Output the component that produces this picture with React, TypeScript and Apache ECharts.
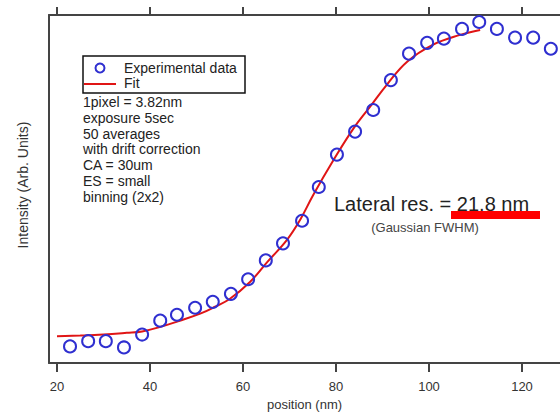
import React, { useEffect, useRef } from "react";
import * as echarts from "echarts";

// Experimental data (position in nm, intensity in arbitrary units 0-100)
const positions = [22.8, 26.7, 30.5, 34.4, 38.3, 42.2, 45.8, 49.7, 53.5, 57.4, 61.1, 64.9, 68.6, 72.7, 76.3, 80.2, 84.1, 88.0, 91.8, 95.7, 99.6, 103.2, 107.1, 110.8, 114.6, 118.5, 122.4, 126.2];
const intensities = [4.8, 6.3, 6.3, 4.5, 8.2, 12.2, 13.9, 15.9, 17.6, 19.9, 24.1, 29.5, 34.4, 40.9, 50.6, 59.9, 66.5, 72.7, 81.3, 88.9, 92.0, 93.2, 96.0, 98.0, 96.0, 93.5, 93.5, 90.3];

// Fit curve
const fitX = [20, 25, 30, 35, 38.3, 42.2, 46, 50.8, 54, 57.2, 61.5, 65.2, 69.5, 72.3, 75.1, 79.4, 83.7, 87.3, 91.0, 95.3, 100.9, 106.7, 111.0];
const fitY = [7.7, 7.9, 8.2, 8.7, 9.1, 10.4, 12.0, 14.2, 16.2, 18.5, 23.3, 29.0, 35.5, 41.2, 48.3, 58.2, 67.3, 73.6, 80.1, 86.6, 91.5, 94.3, 95.7];

const xTicks = [20, 40, 60, 80, 100, 120];

const notes = [
  "1pixel = 3.82nm",
  "exposure 5sec",
  "50 averages",
  "with drift correction",
  "CA = 30um",
  "ES = small",
  "binning (2x2)",
];

const FONT = "Liberation Sans, Arial, sans-serif";
const BLUE = "#2f2fd0";
const RED = "#e01515";
const AXIS = "#444";

export default function App() {
  const ref = useRef<HTMLDivElement>(null);
  useEffect(() => {
    document.body.style.margin = "0";
    if (!ref.current) return;
    const chart = echarts.init(ref.current, null, { renderer: "svg" });
    const noteTexts = notes.map((t, i) => ({
      type: "text",
      x: 83,
      y: 102 + i * 15.8,
      style: { text: t, font: `14px ${FONT}`, fill: "#222", verticalAlign: "middle" },
    }));
    chart.setOption({
      animation: false,
      backgroundColor: "#fff",
      grid: { left: 49, right: 0, top: 15, bottom: 49 },
      xAxis: [
        {
          type: "value",
          position: "bottom",
          min: 18.28,
          max: 128.17,
          name: "position (nm)",
          nameLocation: "middle",
          nameGap: 34,
          nameTextStyle: { fontSize: 13, color: "#333", fontFamily: FONT },
          axisLine: { show: true, lineStyle: { color: AXIS, width: 2 } },
          axisTick: { show: true, length: 9, lineStyle: { color: AXIS, width: 2 }, customValues: xTicks },
          axisLabel: { show: true, customValues: xTicks, margin: 17, color: "#333", fontSize: 13, fontFamily: FONT },
          splitLine: { show: false },
        },
        {
          type: "value",
          position: "top",
          min: 18.28,
          max: 128.17,
          axisLine: { show: true, lineStyle: { color: AXIS, width: 2 } },
          axisTick: { show: true, length: 8, lineStyle: { color: AXIS, width: 2 }, customValues: xTicks },
          axisLabel: { show: false },
          splitLine: { show: false },
        },
      ],
      yAxis: {
        type: "value",
        min: 0,
        max: 100,
        axisLine: { show: true, lineStyle: { color: AXIS, width: 2 } },
        axisTick: { show: false },
        axisLabel: { show: false },
        splitLine: { show: false },
      },
      series: [
        {
          type: "line",
          name: "Fit",
          data: fitX.map((x, i) => [x, fitY[i]]),
          smooth: 0.4,
          showSymbol: false,
          lineStyle: { color: RED, width: 2 },
          z: 2,
        },
        {
          type: "scatter",
          name: "Experimental data",
          data: positions.map((x, i) => [x, intensities[i]]),
          symbol: "circle",
          symbolSize: 12,
          itemStyle: { color: "rgba(255,255,255,0)", borderColor: BLUE, borderWidth: 2, opacity: 1 },
          z: 3,
        },
      ],
      graphic: [
        {
          type: "text",
          x: 23,
          y: 185,
          rotation: Math.PI / 2,
          style: {
            text: "Intensity (Arb. Units)",
            font: `14px ${FONT}`,
            fill: "#333",
            align: "center",
            verticalAlign: "middle",
          },
        },
        {
          type: "rect",
          shape: { x: 83, y: 56, width: 162, height: 37 },
          style: { fill: "#fff", stroke: "#111", lineWidth: 1.5 },
        },
        {
          type: "circle",
          shape: { cx: 100, cy: 68, r: 4.5 },
          style: { fill: "none", stroke: BLUE, lineWidth: 2 },
        },
        {
          type: "text",
          x: 124,
          y: 68,
          style: { text: "Experimental data", font: `14px ${FONT}`, fill: "#222", verticalAlign: "middle" },
        },
        {
          type: "line",
          shape: { x1: 84, y1: 84, x2: 116, y2: 84 },
          style: { stroke: RED, lineWidth: 2 },
        },
        {
          type: "text",
          x: 124,
          y: 83,
          style: { text: "Fit", font: `14px ${FONT}`, fill: "#222", verticalAlign: "middle" },
        },
        ...noteTexts,
        {
          type: "text",
          x: 334,
          y: 204,
          style: { text: "Lateral res. = 21.8 nm", font: `20px ${FONT}`, fill: "#222", verticalAlign: "middle" },
        },
        {
          type: "text",
          x: 425,
          y: 227,
          style: { text: "(Gaussian FWHM)", font: `13px ${FONT}`, fill: "#444", align: "center", verticalAlign: "middle" },
        },
        {
          type: "rect",
          shape: { x: 451, y: 211, width: 89, height: 8 },
          style: { fill: "#ff0000" },
        },
      ],
    });
    return () => chart.dispose();
  }, []);
  return <div ref={ref} style={{ width: 560, height: 416 }} />;
}
